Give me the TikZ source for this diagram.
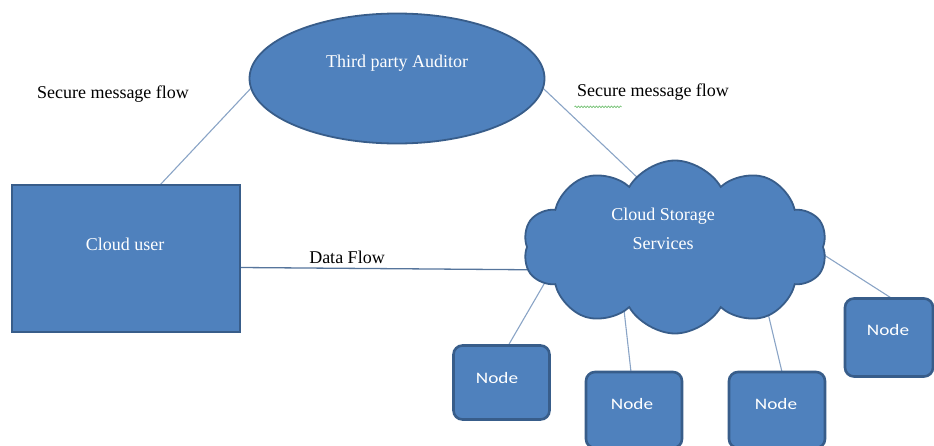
\documentclass[tikz,border=0pt]{standalone}
\usepackage{fontspec}
\setmainfont{Liberation Serif}
\newfontfamily\nodefont[FakeStretch=1.2]{Carlito}
\usetikzlibrary{shapes.geometric,shapes.symbols,decorations.pathmorphing,calc}
\pgfdeclarelayer{bg}
\pgfsetlayers{bg,main}
\definecolor{boxfill}{HTML}{4F81BD}
\definecolor{boxedge}{HTML}{385D8A}
\definecolor{conn}{HTML}{8AA4C6}
\definecolor{spell}{HTML}{6FBF6F}
\begin{document}
\begin{tikzpicture}[x=1pt,y=-1pt,
  shapebox/.style={fill=boxfill,draw=boxedge,line width=1.8pt},
  intext/.style={text=white,font=\fontsize{18}{29}\selectfont,align=center},
  outtext/.style={text=black,font=\fontsize{18}{22}\selectfont},
  nodebox/.style={shapebox,line width=2.6pt,rounded corners=9pt,minimum width=96pt,minimum height=74pt,inner sep=0pt},
  nodetext/.style={text=white,font=\nodefont\fontsize{16}{18}\selectfont},
  connector/.style={draw=conn,line width=1.1pt},
  dataflow/.style={draw=boxedge!85,line width=1.3pt}]
\useasboundingbox (0,0) rectangle (934,445);
% shapes
\node[shapebox,ellipse,minimum width=295pt,minimum height=130pt,inner sep=0pt] (aud) at (397,78.5) {};
\node[intext] (audtxt) at (397,63) {Third party Auditor};
\node[shapebox,rectangle,minimum width=228pt,minimum height=147pt,inner sep=0pt] (user) at (126,258.5) {};
\node[intext] (usertxt) at (125,244) {Cloud user};
\node[shapebox,cloud,cloud puffs=10,cloud puff arc=120,aspect=1.75,minimum width=304pt,minimum height=173pt,inner sep=0pt] (cloud) at (675,247) {};
\node[intext] (cloudtxt) at (663,229) {Cloud Storage\\Services};
\node[nodebox] (n1) at (501.5,382.5) {};
\node[nodetext] (n1t) at (497,378) {Node};
\node[nodebox,minimum height=76pt] (n2) at (634,410) {};
\node[nodetext] (n2t) at (632,404) {Node};
\node[nodebox,minimum height=76pt] (n3) at (777,410) {};
\node[nodetext] (n3t) at (776,404) {Node};
\node[nodebox,minimum width=88pt,minimum height=78pt] (n4) at (889,337.5) {};
\node[nodetext] (n4t) at (888,330) {Node};
% labels
\node[outtext] (lbl1) at (113,94) {Secure message flow};
\node[outtext] (lbl2) at (653,92) {Secure message flow};
\node[outtext] (lbl3) at (347,257) {Data Flow};
\draw[spell,line width=0.7pt,decorate,decoration={snake,segment length=3pt,amplitude=0.8pt}] ([xshift=1pt,yshift=-3pt]lbl2.south west) -- ++(47,0);
% connectors (start inside the cloud, drawn beneath it)
\coordinate (usertop) at (160,185);
\coordinate (cloudtl) at (640,180);
\coordinate (dfend) at (560,270);
\coordinate (c1) at (551,272);
\coordinate (c2) at (622,292);
\coordinate (c3) at (762,288);
\coordinate (c4) at (810,246);
\begin{pgfonlayer}{bg}
\draw[connector] (aud.184) -- (usertop);
\draw[connector] (aud.-4) -- (cloudtl);
\draw[dataflow] ([yshift=-9pt]user.east) -- (dfend);
\draw[connector] (c1) -- (n1.north -| 509,0);
\draw[connector] (c2) -- (631,372);
\draw[connector] (c3) -- (782,372);
\draw[connector] (c4) -- (892,298.5);
\end{pgfonlayer}
\end{tikzpicture}
\end{document}
